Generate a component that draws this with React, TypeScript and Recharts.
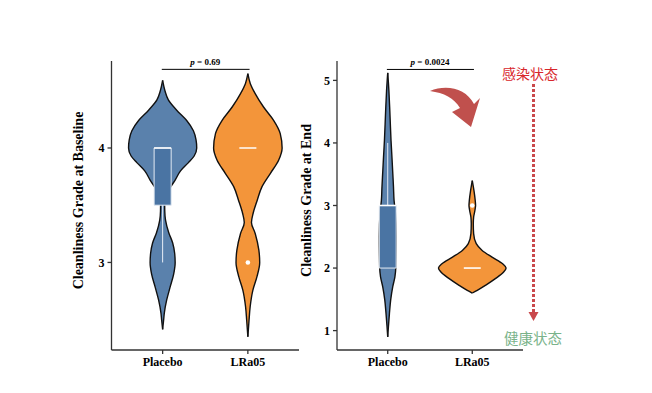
import React from 'react'
import { ComposedChart, Area, Line, XAxis, YAxis, ReferenceDot } from 'recharts'

// groups on the x axis (numeric positions 1 and 2)
const groups = ['Placebo', 'LRa05']

// Baseline panel: violin outlines, grade level -> half width
const basePlaceboGrade = [2.415, 2.5, 2.56, 2.67, 2.78, 2.9, 3.0, 3.08, 3.17, 3.26, 3.37, 3.45, 3.52, 3.6, 3.675, 3.72, 3.8, 3.87, 3.93, 4.0, 4.07, 4.15, 4.24, 4.33, 4.42, 4.5, 4.59]
const basePlaceboWidth = [0, 0.012, 0.02, 0.047, 0.086, 0.13, 0.147, 0.141, 0.118, 0.072, 0.034, 0.025, 0.024, 0.05, 0.108, 0.147, 0.21, 0.3, 0.37, 0.4, 0.392, 0.361, 0.282, 0.165, 0.067, 0.027, 0]
const baseLraGrade = [2.351, 2.497, 2.613, 2.758, 2.874, 3.0, 3.107, 3.253, 3.35, 3.43, 3.544, 3.66, 3.777, 3.893, 4.0, 4.126, 4.242, 4.358, 4.475, 4.562, 4.649]
const baseLraWidth = [0, 0.014, 0.027, 0.059, 0.106, 0.139, 0.129, 0.086, 0.042, 0.062, 0.11, 0.165, 0.263, 0.361, 0.402, 0.38, 0.302, 0.184, 0.086, 0.029, 0]

// End panel
const endPlaceboGrade = [0.9, 1.06, 1.27, 1.49, 1.7, 1.86, 2.0, 2.5, 2.9, 3.08, 3.3, 3.51, 3.77, 4.04, 4.3, 4.57, 4.83, 5.12]
const endPlaceboWidth = [0, 0.008, 0.02, 0.035, 0.059, 0.085, 0.095, 0.1, 0.09, 0.075, 0.068, 0.06, 0.05, 0.039, 0.031, 0.023, 0.014, 0]
const endLraGrade = [1.6, 1.643, 1.723, 1.83, 1.936, 2.0, 2.069, 2.175, 2.282, 2.39, 2.55, 2.71, 2.813, 2.92, 3.0, 3.08, 3.239, 3.399]
const endLraWidth = [0, 0.059, 0.156, 0.273, 0.371, 0.4, 0.359, 0.234, 0.117, 0.047, 0.016, 0.012, 0.016, 0.031, 0.039, 0.035, 0.02, 0]

// box stats [q1, median, q3, whiskerLow, whiskerHigh] per group
const baseBoxes = [[3.5, 4, 4, 3, 4], [4, 4, 4, 4, 4]]
const endBoxes = [[2, 3, 3, 3, 4], [2, 2, 2, 2, 2]]
const baseOutliers = [[2, 3]]
const endOutliers = [[2, 3]]

const baseTicks = [3, 4]
const endTicks = [1, 2, 3, 4, 5]
const pValues = ['0.69', '0.0024']

const BLUE = '#5a81ac'
const BLUE_BOX = '#4a74a3'
const ORANGE = '#f3953a'
const AXIS = '#333'
const SERIF = '"Liberation Serif", "Times New Roman", serif'
const BOX_HALF = 0.1

const violinRows = (grades: number[], widths: number[], centre: number) =>
  grades.map((g, i) => ({ y: g, band: [centre - widths[i], centre + widths[i]] }))

const vSeg = (x: number, a: number, b: number) => [{ y: a, x }, { y: b, x }]
const hSeg = (y: number, x1: number, x2: number) => [{ y, x: x1 }, { y, x: x2 }]

const AxisTitle = (props: any) => {
  const { viewBox, text, gap } = props
  const x = viewBox.x + viewBox.width - gap
  const y = viewBox.y + viewBox.height / 2 - 5
  return (
    <text x={x} y={y} transform={`rotate(-90 ${x} ${y})`} textAnchor="middle" dominantBaseline="central"
      style={{ fontFamily: SERIF, fontWeight: 700, fontSize: 14, fill: '#000' }}>
      {text}
    </text>
  )
}

const PLabel = (props: any) => {
  const { viewBox, value } = props
  return (
    <text x={viewBox.x} y={viewBox.y} textAnchor="middle" dominantBaseline="central"
      style={{ fontFamily: SERIF, fontWeight: 700, fontSize: 9, fill: '#000' }}>
      <tspan fontStyle="italic">p</tspan> = {value}
    </text>
  )
}

interface PanelProps {
  width: number
  margin: { top: number; right: number; bottom: number; left: number }
  domain: [number, number]
  ticks: number[]
  title: string
  titleGap: number
  pValue: string
  bracketY: number
  pY: number
  violins: { rows: any[]; fill: string }[]
  boxes: number[][]
  outliers: number[][]
}

function Panel(p: PanelProps) {
  const whiskers: any[] = []
  const edges: any[] = []
  const medians: any[] = []
  const boxAreas: any[] = []
  p.boxes.forEach((b, i) => {
    const c = i + 1
    const [q1, med, q3, lo, hi] = b
    if (q3 > q1) {
      boxAreas.push([{ y: q1, band: [c - BOX_HALF, c + BOX_HALF] }, { y: q3, band: [c - BOX_HALF, c + BOX_HALF] }])
      edges.push(hSeg(q1, c - BOX_HALF, c + BOX_HALF))
      edges.push(hSeg(q3, c - BOX_HALF, c + BOX_HALF))
    }
    if (lo < q1) whiskers.push(vSeg(c, lo, q1))
    if (hi > q3) whiskers.push(vSeg(c, q3, hi))
    medians.push(hSeg(med, c - BOX_HALF, c + BOX_HALF))
  })

  return (
    <ComposedChart layout="vertical" width={p.width} height={393} margin={p.margin}>
      <XAxis
        type="number"
        domain={[0.4, 2.6]}
        ticks={[1, 2]}
        interval={0}
        allowDataOverflow
        tickFormatter={(v: number) => groups[v - 1]}
        height={30}
        tickSize={4}
        tickMargin={3}
        axisLine={{ stroke: AXIS, strokeWidth: 1.3 }}
        tickLine={{ stroke: AXIS, strokeWidth: 1.3 }}
        tick={{ fontFamily: SERIF, fontWeight: 700, fontSize: 12, fill: '#000' }}
      />
      <YAxis
        type="number"
        dataKey="y"
        reversed
        domain={p.domain}
        ticks={p.ticks}
        interval={0}
        allowDataOverflow
        width={60}
        tickSize={4}
        tickMargin={3}
        axisLine={{ stroke: AXIS, strokeWidth: 1.3 }}
        tickLine={{ stroke: AXIS, strokeWidth: 1.3 }}
        tick={{ fontFamily: SERIF, fontWeight: 700, fontSize: 12, fill: '#000' }}
        label={<AxisTitle text={p.title} gap={p.titleGap} />}
      />
      {p.violins.map((v, i) => (
        <Area key={`v${i}`} data={v.rows} dataKey="band" type="monotone" fill={v.fill} fillOpacity={1}
          stroke="#111" strokeWidth={1.4} dot={false} activeDot={false} isAnimationActive={false} />
      ))}
      {boxAreas.map((rows, i) => (
        <Area key={`b${i}`} data={rows} dataKey="band" type="linear" fill={BLUE_BOX} fillOpacity={1}
          stroke="#e3eaf3" strokeWidth={1} dot={false} activeDot={false} isAnimationActive={false} />
      ))}
      {whiskers.map((rows, i) => (
        <Line key={`w${i}`} data={rows} dataKey="x" type="linear" stroke="#e8eef6" strokeWidth={1}
          dot={false} activeDot={false} isAnimationActive={false} />
      ))}
      {edges.map((rows, i) => (
        <Line key={`e${i}`} data={rows} dataKey="x" type="linear" stroke="#e3eaf3" strokeWidth={1}
          dot={false} activeDot={false} isAnimationActive={false} />
      ))}
      {medians.map((rows, i) => (
        <Line key={`m${i}`} data={rows} dataKey="x" type="linear" stroke="#ffffff" strokeWidth={1.6}
          dot={false} activeDot={false} isAnimationActive={false} />
      ))}
      <Line data={hSeg(p.bracketY, 0.99, 2.02)} dataKey="x" type="linear" stroke="#000" strokeWidth={1}
        dot={false} activeDot={false} isAnimationActive={false} />
      {p.outliers.map((o, i) => (
        <ReferenceDot key={`o${i}`} x={o[0]} y={o[1]} r={2.3} fill="#fff" stroke="none" ifOverflow="visible" />
      ))}
      <ReferenceDot x={1.5} y={p.pY} r={0} fill="none" stroke="none" ifOverflow="visible"
        label={<PLabel value={p.pValue} />} />
    </ComposedChart>
  )
}

export default function App() {
  return (
    <div style={{ position: 'fixed', left: 0, top: 0, width: 652, height: 393, background: '#fff' }}>
      <div style={{ position: 'absolute', left: 0, top: 0 }}>
        <Panel
          width={320}
          margin={{ top: 61, right: 21, bottom: 13, left: 51.5 }}
          domain={[2.235, 4.76]}
          ticks={baseTicks}
          title="Cleanliness Grade at Baseline"
          titleGap={33.5}
          pValue={pValues[0]}
          bracketY={4.687}
          pY={4.755}
          violins={[
            { rows: violinRows(basePlaceboGrade, basePlaceboWidth, 1), fill: BLUE },
            { rows: violinRows(baseLraGrade, baseLraWidth, 2), fill: ORANGE },
          ]}
          boxes={baseBoxes}
          outliers={baseOutliers}
        />
      </div>
      <div style={{ position: 'absolute', left: 270, top: 0 }}>
        <Panel
          width={290}
          margin={{ top: 61, right: 37, bottom: 13, left: 7 }}
          domain={[0.69, 5.31]}
          ticks={endTicks}
          title="Cleanliness Grade at End"
          titleGap={30.5}
          pValue={pValues[1]}
          bracketY={5.175}
          pY={5.3}
          violins={[
            { rows: violinRows(endPlaceboGrade, endPlaceboWidth, 1), fill: BLUE },
            { rows: violinRows(endLraGrade, endLraWidth, 2), fill: ORANGE },
          ]}
          boxes={endBoxes}
          outliers={endOutliers}
        />
      </div>
      {/* 注释：弯箭头、虚线箭头和状态文字 */}
      <svg width={652} height={393} style={{ position: 'absolute', left: 0, top: 0, pointerEvents: 'none' }}>
        <path d="M 430 91 C 446 84, 466 88, 474 104 L 480 98 L 471 127 L 452 112 L 460 108 C 454 98, 444 93, 430 91 Z"
          fill="#c0504d" />
        <line x1={533.5} y1={84} x2={533.5} y2={312} stroke="#c9484b" strokeWidth={3} strokeDasharray="3 2" />
        <polygon points="528.5,312 538.5,312 533.5,321" fill="#c9484b" />
        <text x={530} y={73} textAnchor="middle" dominantBaseline="central"
          style={{ fontFamily: '"Noto Sans CJK SC", sans-serif', fontSize: 14, fill: '#d8262b' }}>感染状态</text>
        <text x={533} y={337} textAnchor="middle" dominantBaseline="central"
          style={{ fontFamily: '"Noto Sans CJK SC", sans-serif', fontSize: 14.5, fill: '#7ab38a' }}>健康状态</text>
      </svg>
    </div>
  )
}
